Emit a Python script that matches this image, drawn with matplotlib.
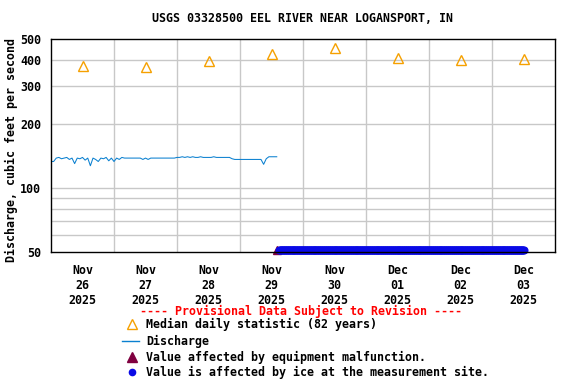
import matplotlib
matplotlib.use("Agg")
import matplotlib.pyplot as plt
from matplotlib.lines import Line2D
from matplotlib.ticker import FixedLocator, NullLocator
import pandas as pd

# ---- data ----
title = "USGS 03328500 EEL RIVER NEAR LOGANSPORT, IN"

median_days = ["2025-11-26 12:00", "2025-11-27 12:00", "2025-11-28 12:00", "2025-11-29 12:00",
               "2025-11-30 12:00", "2025-12-01 12:00", "2025-12-02 12:00", "2025-12-03 12:00"]
median_values = [374, 368, 395, 424, 452, 408, 397, 404]

# hourly discharge, cfs, starting 2025-11-26 00:00
discharge_start = "2025-11-26 00:00"
discharge_values = [
    133, 133, 138, 139, 137, 138, 139, 136, 138, 130, 138, 137,
    139, 135, 138, 127, 138, 136, 133, 138, 137, 139, 134, 138,
    133, 138, 136, 139, 138, 138, 138, 138, 138, 138, 138, 136,
    138, 136, 138, 138, 138, 138, 138, 138, 138, 138, 138, 138,
    139, 139, 140, 139, 140, 139, 140, 139, 139, 140, 139, 139,
    139, 139, 140, 139, 139, 139, 139, 139, 139, 137, 136, 136,
    136, 136, 136, 136, 136, 136, 136, 136, 136, 129, 137, 140,
    140, 140, 140,
]

# ice-affected period (15 minute values), drawn at bottom of graph
ice_start = "2025-11-29 15:00"
ice_end = "2025-12-03 12:00"
ice_level = 51

equipment_times = ["2025-11-29 14:15"]
equipment_values = [51]

tick_days = median_days
tick_labels = ["Nov\n26\n2025", "Nov\n27\n2025", "Nov\n28\n2025", "Nov\n29\n2025",
               "Nov\n30\n2025", "Dec\n01\n2025", "Dec\n02\n2025", "Dec\n03\n2025"]
y_ticks = [50, 100, 200, 300, 400, 500]
y_grid = [60, 70, 80, 90, 100, 200, 300, 400]

# ---- plot ----
FONT = "DejaVu Sans Mono"
FS = 8.4

fig = plt.figure(figsize=(5.76, 3.84), dpi=100)
ax = fig.add_axes([51 / 576, 1 - 252 / 384, 504 / 576, 213 / 384])

t_dis = pd.date_range(discharge_start, periods=len(discharge_values), freq="h")
t_ice = pd.date_range(ice_start, ice_end, freq="15min")

ax.plot(t_dis, discharge_values, color="#0a80d0", lw=0.75, zorder=3)
ax.plot(pd.to_datetime(median_days), median_values, linestyle="none", marker="^",
        markersize=7, markerfacecolor="none", markeredgecolor="#f5a000",
        markeredgewidth=1.0, zorder=4)
ax.plot(pd.to_datetime(equipment_times), equipment_values, linestyle="none", marker="^",
        markersize=6, color="#800040", clip_on=False, zorder=5)
ax.plot(t_ice, [ice_level] * len(t_ice), linestyle="none", marker="o",
        markersize=5.8, color="#0a0ae6", markeredgewidth=0, clip_on=False, zorder=6)

ax.set_yscale("log")
ax.set_ylim(50, 500)
ax.set_xlim(pd.Timestamp("2025-11-26 00:00"), pd.Timestamp("2025-12-04 00:00"))

ax.yaxis.set_major_locator(FixedLocator(y_ticks))
ax.yaxis.set_minor_locator(NullLocator())
ax.set_yticklabels([str(v) for v in y_ticks], fontfamily=FONT, fontweight="bold", fontsize=FS)
ax.set_xticks(pd.to_datetime(tick_days))
ax.set_xticklabels(tick_labels, fontfamily=FONT, fontweight="bold", fontsize=FS, linespacing=1.15)
ax.tick_params(axis="both", length=0)
ax.tick_params(axis="x", pad=9)
ax.tick_params(axis="y", pad=7)

for v in y_grid:
    ax.axhline(v, color="#c8c8c8", lw=1.0, zorder=1)
for d in pd.date_range("2025-11-27", "2025-12-03", freq="D"):
    ax.axvline(d, color="#c8c8c8", lw=1.0, zorder=1)
for s in ax.spines.values():
    s.set_linewidth(1.0)
    s.set_zorder(7)

fig.text(11 / 576, 1 - 150 / 384, "Discharge, cubic feet per second", rotation=90,
         ha="center", va="center", fontfamily=FONT, fontweight="bold", fontsize=FS)
fig.text(302 / 576, 1 - 19 / 384, title, ha="center", va="center",
         fontfamily=FONT, fontweight="bold", fontsize=FS)

# ---- legend below the graph ----
fig.text(301 / 576, 1 - 311 / 384, "---- Provisional Data Subject to Revision ----",
         ha="center", va="center", color="#ff0000", fontfamily=FONT, fontweight="bold", fontsize=FS)
legend_rows = [
    (324, "Median daily statistic (82 years)"),
    (341, "Discharge"),
    (357, "Value affected by equipment malfunction."),
    (372, "Value is affected by ice at the measurement site."),
]
for y, label in legend_rows:
    fig.text(146 / 576, 1 - y / 384, label, ha="left", va="center",
             fontfamily=FONT, fontweight="bold", fontsize=FS)


def fy(y):
    return 1 - y / 384


fig.add_artist(Line2D([132 / 576], [fy(324)], transform=fig.transFigure, marker="^",
                      markersize=7, markerfacecolor="none", markeredgecolor="#f5a000",
                      markeredgewidth=1.0, linestyle="none"))
fig.add_artist(Line2D([122 / 576, 139 / 576], [fy(341), fy(341)], transform=fig.transFigure,
                      color="#0a80d0", lw=1.0))
fig.add_artist(Line2D([132 / 576], [fy(357)], transform=fig.transFigure, marker="^",
                      markersize=7, color="#800040", linestyle="none"))
fig.add_artist(Line2D([132 / 576], [fy(372)], transform=fig.transFigure, marker="o",
                      markersize=5.5, color="#0a0ae6", markeredgewidth=0, linestyle="none"))

fig.savefig("out.png", dpi=100)
